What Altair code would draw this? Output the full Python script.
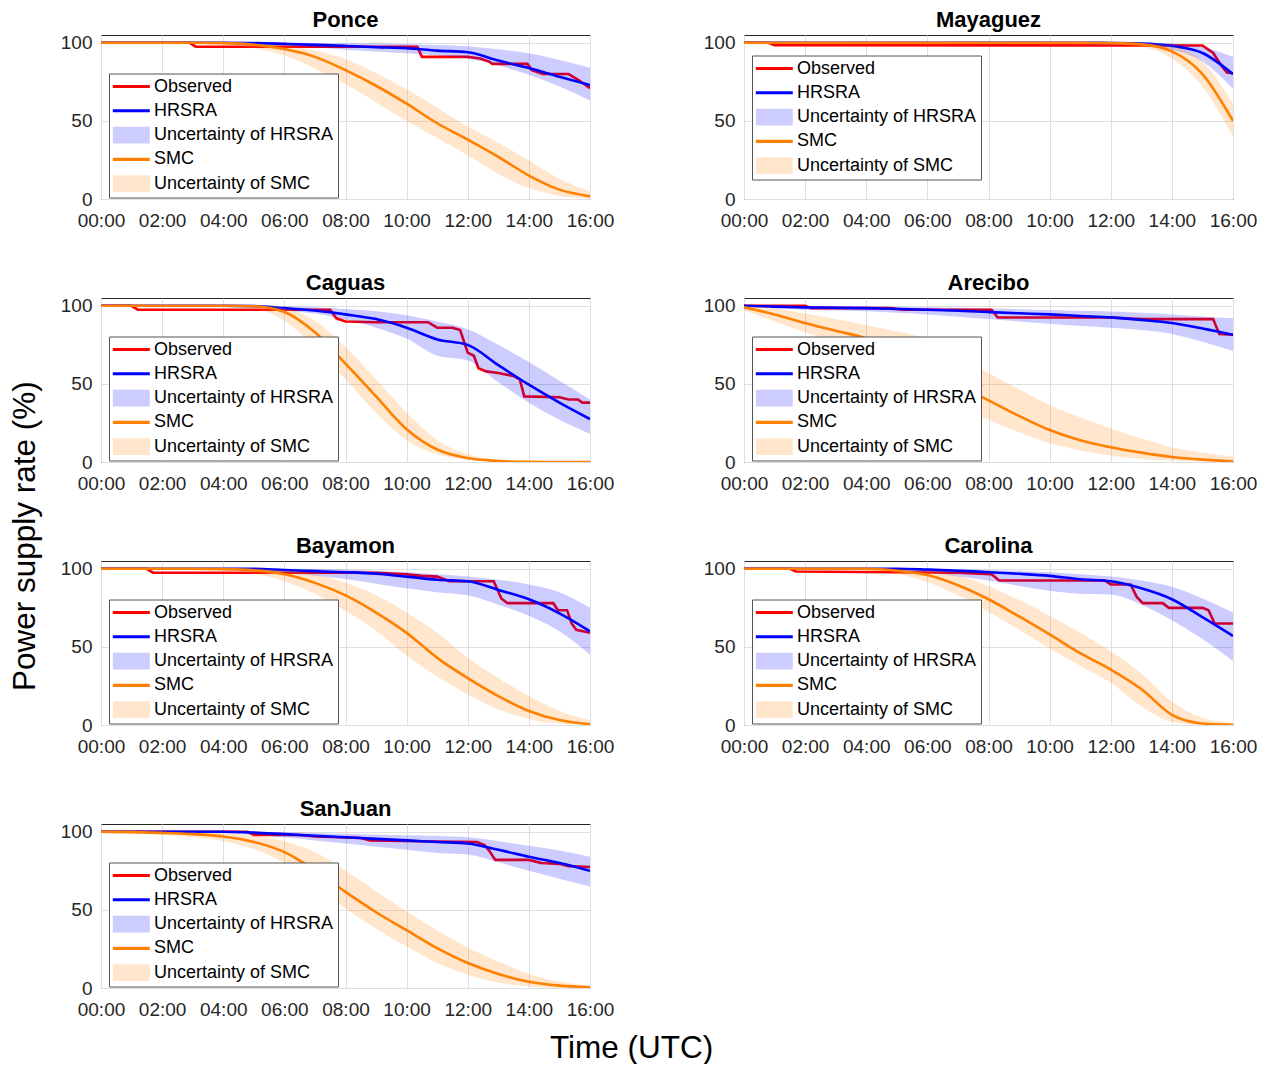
import altair as alt
import pandas as pd

HOURS = list(range(17))
X_TICKS = [0, 2, 4, 6, 8, 10, 12, 14, 16]
Y_TICKS = [0, 50, 100]
SERIES = ["Observed", "HRSRA", "Uncertainty of HRSRA", "SMC", "Uncertainty of SMC"]
COLORS = ["#ff0000", "#0000ff", "#ccccff", "#ff8000", "#ffe6cc"]
CITIES = ["Ponce", "Mayaguez", "Caguas", "Arecibo", "Bayamon", "Carolina", "SanJuan"]

# ---------------- Ponce ----------------
ponce_obs_t = [0, 2.9, 3.1, 10.35, 10.5, 12.0, 12.4, 12.7, 12.8, 13.95, 14.1, 14.45, 15.3, 15.6, 16]
ponce_obs_v = [100, 100, 97.5, 97.5, 91, 91, 90, 88, 86.5, 86.5, 82.5, 80, 80, 76.5, 71]
ponce_hrsra = [100, 100, 100, 100, 100, 99.8, 99.3, 98.7, 98, 97.2, 96.5, 95, 94, 88.6, 83.8, 78.3, 73]
ponce_hrsra_hi = [100, 100, 100, 100, 100, 100, 100, 99.9, 99.7, 99.5, 99.2, 98.6, 97.8, 95.8, 93.3, 89, 84]
ponce_hrsra_lo = [100, 100, 100, 100, 99.8, 99.3, 98.3, 97, 95.6, 94.5, 93.3, 91.8, 90, 85.5, 79.5, 72, 63]
ponce_smc = [100, 100, 100, 100, 99.8, 98.8, 96, 91, 82.5, 72.5, 61, 48.5, 38, 27, 15, 6, 1.7]
ponce_smc_hi = [100, 100, 100, 100, 100, 99.6, 98.2, 95, 89.5, 80.5, 70.3, 58.5, 46.4, 36, 24.6, 13, 5]
ponce_smc_lo = [100, 100, 100, 99.9, 99, 96.5, 91.8, 83.5, 73.5, 62, 50, 39, 28, 16, 7, 2, 0.3]

# ---------------- Mayaguez ----------------
mayaguez_obs_t = [0, 0.8, 1.0, 15.0, 15.35, 15.6, 15.8, 16]
mayaguez_obs_v = [100, 100, 98.5, 98.3, 93.5, 86, 81, 80.5]
mayaguez_hrsra = [100, 100, 100, 100, 100, 100, 100, 100, 100, 100, 100, 100, 99.9, 99.6, 98, 93.5, 80]
mayaguez_hrsra_hi = [100, 100, 100, 100, 100, 100, 100, 100, 100, 100, 100, 100, 100, 100, 99.6, 97.5, 91]
mayaguez_hrsra_lo = [100, 100, 100, 100, 100, 100, 100, 100, 100, 100, 100, 99.8, 99.5, 98.8, 95.5, 88, 70.5]
mayaguez_smc = [100, 100, 100, 100, 100, 100, 100, 100, 100, 100, 100, 100, 99.8, 99, 94.5, 80, 50]
mayaguez_smc_hi = [100, 100, 100, 100, 100, 100, 100, 100, 100, 100, 100, 100, 100, 99.8, 98, 88, 61]
mayaguez_smc_lo = [100, 100, 100, 100, 100, 100, 100, 100, 100, 100, 100, 100, 99.3, 97.5, 90, 72, 40]

# ---------------- Caguas ----------------
caguas_obs_t = [0, 1.0, 1.2, 7.5, 7.7, 8.0, 9.0, 10.7, 11.0, 11.5, 11.75, 12.0, 12.2, 12.35, 12.6, 13.0,
                13.5, 13.7, 13.85, 15.0, 15.3, 15.6, 15.75, 16]
caguas_obs_v = [100, 100, 97.5, 97.5, 92, 90, 89.5, 89.5, 86, 86, 84.5, 70, 68, 60, 58, 57,
                55, 53, 42, 41.5, 40, 40, 38, 38]
caguas_hrsra = [100, 100, 100, 100, 100, 99.8, 98.5, 97, 94.5, 91.5, 86, 78.5, 75, 62, 49.5, 38, 27.5]
caguas_hrsra_hi = [100, 100, 100, 100, 100, 100, 99.5, 99, 98, 96.5, 94, 90, 85, 75, 64, 52, 40]
caguas_hrsra_lo = [100, 100, 100, 100, 100, 99.5, 97, 95, 91, 86, 79, 68, 65, 51, 38, 27, 18]
caguas_smc = [100, 100, 100, 100, 100, 99.7, 96, 83, 63, 42, 21, 8, 2.5, 0.6, 0.1, 0, 0]
caguas_smc_hi = [100, 100, 100, 100, 100, 100, 98.5, 90.5, 73.5, 53, 31.5, 14, 5, 1.5, 0.3, 0, 0]
caguas_smc_lo = [100, 100, 100, 100, 99.9, 98.5, 90.5, 73.5, 53, 31.5, 14, 5, 1.5, 0.3, 0, 0, 0]

# ---------------- Arecibo ----------------
arecibo_obs_t = [0, 2.0, 2.2, 4.8, 5.2, 8.1, 8.3, 12.0, 13.0, 15.35, 15.55, 16]
arecibo_obs_v = [100, 100, 98.5, 98.5, 97.5, 97.5, 92.5, 92.5, 91.5, 91.5, 82, 81.5]
arecibo_hrsra = [100, 99.5, 99, 98.8, 98.5, 98, 97.5, 96.8, 96, 95.2, 94.5, 93.5, 92.6, 91, 89, 85.5, 81.5]
arecibo_hrsra_hi = [100, 100, 99.8, 99.7, 99.5, 99.3, 99, 98.7, 98.3, 97.8, 97.3, 96.8, 96.3, 95.5, 94.5, 93.2, 92]
arecibo_hrsra_lo = [99.5, 98.5, 97.5, 97, 96.5, 95.5, 94.5, 93, 91.5, 90, 88.5, 87, 86, 84.5, 82, 77, 71]
arecibo_smc = [99, 94.5, 89, 84, 79, 69, 59, 49, 39.5, 29.5, 20.5, 14, 9.5, 6, 3.2, 1.5, 0.5]
arecibo_smc_hi = [100, 98.5, 95, 91.5, 87.5, 83.5, 79, 69, 57, 46.5, 36.5, 28.5, 21.5, 15, 9.5, 6, 3.5]
arecibo_smc_lo = [97, 90, 83, 76, 68, 58, 47, 37, 27, 19, 12, 7.5, 4, 2, 1, 0.3, 0]

# ---------------- Bayamon ----------------
bayamon_obs_t = [0, 1.5, 1.7, 9.0, 10.0, 10.5, 11.0, 11.4, 12.85, 13.1, 13.3, 14.8, 14.95, 15.25, 15.4, 15.55, 16]
bayamon_obs_v = [100, 100, 97.5, 97.5, 96.5, 95.5, 95, 92, 92, 81, 78, 78, 73.5, 73.5, 65, 61, 59]
bayamon_hrsra = [100, 100, 100, 100, 100, 100, 99.2, 98.5, 97.8, 96.8, 95, 93, 92, 86.5, 80.5, 71.5, 60]
bayamon_hrsra_hi = [100, 100, 100, 100, 100, 100, 100, 99.8, 99.5, 98.8, 97.8, 96.5, 95, 93, 90, 85, 75]
bayamon_hrsra_lo = [100, 100, 100, 100, 99.8, 99, 97.5, 95.5, 93.5, 90.5, 87.5, 85, 83, 77, 70, 60, 45]
bayamon_smc = [100, 100, 100, 100, 99.8, 99, 96.5, 91, 83, 72, 59, 43, 30, 18.5, 9, 3.2, 0.5]
bayamon_smc_hi = [100, 100, 100, 100, 100, 100, 99, 96.5, 91, 83, 72, 59, 43, 30, 18.5, 9, 3.2]
bayamon_smc_lo = [100, 100, 100, 99.9, 99.2, 97, 92, 84, 73, 60.5, 44.5, 31, 19.5, 10, 3.8, 0.8, 0]

# ---------------- Carolina ----------------
carolina_obs_t = [0, 1.5, 1.7, 7.0, 8.1, 8.35, 11.8, 12.0, 12.65, 12.85, 13.05, 13.7, 13.9, 15.0, 15.2, 15.4, 16]
carolina_obs_v = [100, 100, 98.3, 97.5, 96.5, 92.5, 92.5, 90, 90, 82, 78, 78, 75, 75, 73.5, 65, 65]
carolina_hrsra = [100, 100, 100, 100, 100, 100, 99.5, 98.8, 97.8, 96.8, 95.5, 93.3, 92, 87.5, 80.5, 69, 57]
carolina_hrsra_hi = [100, 100, 100, 100, 100, 100, 100, 99.8, 99.3, 98.7, 97.8, 96.5, 95, 92.5, 88.5, 81, 72]
carolina_hrsra_lo = [100, 100, 100, 100, 99.8, 99, 97.5, 95, 92.5, 89, 86, 84, 83.5, 77, 67, 55, 41]
carolina_smc = [100, 100, 100, 100, 100, 98.8, 96, 89.5, 80.5, 69.5, 58, 46, 35.5, 23, 6.5, 1, 0.2]
carolina_smc_hi = [100, 100, 100, 100, 100, 99.7, 99, 95.5, 89, 80, 70, 59, 47, 33, 15, 4.5, 1.5]
carolina_smc_lo = [100, 100, 100, 100, 99.2, 97, 91.5, 83, 72.5, 61, 49, 38, 27, 12, 2, 0.2, 0]

# ---------------- SanJuan ----------------
sanjuan_obs_t = [0, 4.8, 5.0, 6.5, 7.0, 8.5, 8.8, 11.0, 12.3, 12.55, 12.7, 12.9, 14.0, 14.4, 15.0, 15.3, 16]
sanjuan_obs_v = [100, 100, 98, 98, 97, 96, 94.5, 93.8, 93.5, 91.5, 88, 82, 82, 80, 79.5, 78, 77.5]
sanjuan_hrsra = [100, 100, 100, 100, 100, 99.5, 98.5, 97.5, 96.5, 95.5, 94.5, 93.5, 92.5, 88.5, 84, 80, 75]
sanjuan_hrsra_hi = [100, 100, 100, 100, 100, 100, 99.7, 99.3, 98.8, 98.3, 97.8, 97.3, 96.5, 94, 91, 88, 84]
sanjuan_hrsra_lo = [100, 100, 99.8, 99.5, 99, 98, 96.5, 94.5, 92.5, 90.5, 88.5, 86.5, 85.5, 80.5, 75, 70, 65]
sanjuan_smc = [100, 99.8, 99.3, 98.5, 97, 93.5, 87, 75.5, 61.5, 48.5, 37, 25.5, 16, 9, 4, 1.5, 0.5]
sanjuan_smc_hi = [100, 100, 99.8, 99.5, 99, 97.5, 94, 87, 75, 62, 49, 37, 26, 17, 9, 4, 1.5]
sanjuan_smc_lo = [100, 99, 98, 96.5, 94, 89, 80, 66, 51, 38, 26.5, 16, 8.5, 3.5, 1, 0, 0]

LEGEND_Y = {"Ponce": 38.5, "Mayaguez": 20.5, "Caguas": 38.5, "Arecibo": 38.5,
            "Bayamon": 38.5, "Carolina": 38.5, "SanJuan": 38.5}

g = globals()
# custom legend glyphs: thin bar for lines, tall bar for uncertainty bands
LINE_GLYPH = "M-1.5,-0.25H4.54V0.25H-1.5Z"
BAND_GLYPH = "M-1.5,-1.36H4.54V1.36H-1.5Z"
SHAPES = [LINE_GLYPH, LINE_GLYPH, BAND_GLYPH, LINE_GLYPH, BAND_GLYPH]

x_axis = alt.Axis(values=X_TICKS, title=None, labelOverlap=False, labelFlush=False,
                  labelExpr="(datum.value < 10 ? '0' : '') + datum.value + ':00'")
y_axis = alt.Axis(values=Y_TICKS, title=None, labelOverlap=False)
x_scale = alt.Scale(domain=[0, 16], nice=False, zero=False)
y_scale = alt.Scale(domain=[0, 105], nice=False)


def panel(city):
    key = city.lower()
    smooth = pd.DataFrame({
        "t": HOURS,
        "hr": g[key + "_hrsra"], "hr_lo": g[key + "_hrsra_lo"], "hr_hi": g[key + "_hrsra_hi"],
        "smc": g[key + "_smc"], "smc_lo": g[key + "_smc_lo"], "smc_hi": g[key + "_smc_hi"],
    })
    obs = pd.DataFrame({"t": g[key + "_obs_t"], "v": g[key + "_obs_v"]})
    leg_df = pd.DataFrame({"series": SERIES, "t": [0] * 5, "v": [100] * 5})

    X = alt.X("t:Q", scale=x_scale, axis=x_axis)
    base = alt.Chart(smooth)

    obs_line = alt.Chart(obs).mark_line(color="#ff0000", strokeWidth=2.6, clip=True).encode(
        x=X, y=alt.Y("v:Q", scale=y_scale, axis=y_axis))
    hr_band = base.mark_area(color="#0000ff", opacity=0.2, interpolate="monotone", clip=True).encode(
        x=X, y=alt.Y("hr_lo:Q", scale=y_scale, axis=y_axis), y2="hr_hi:Q")
    hr_line = base.mark_line(color="#0000ff", strokeWidth=2.6, interpolate="monotone", clip=True).encode(
        x=X, y=alt.Y("hr:Q", scale=y_scale, axis=y_axis))
    smc_band = base.mark_area(color="#ff8000", opacity=0.2, interpolate="monotone", clip=True).encode(
        x=X, y=alt.Y("smc_lo:Q", scale=y_scale, axis=y_axis), y2="smc_hi:Q")
    smc_line = base.mark_line(color="#ff8000", strokeWidth=2.6, interpolate="monotone", clip=True).encode(
        x=X, y=alt.Y("smc:Q", scale=y_scale, axis=y_axis))

    leg = alt.Legend(orient="none", legendX=8, legendY=LEGEND_Y[city], title=None,
                     direction="vertical", symbolOpacity=1, symbolSize=150,
                     symbolStrokeWidth=0, labelOffset=23, rowPadding=6.3,
                     padding=4, labelLimit=0)
    legend_layer = alt.Chart(leg_df).mark_point(filled=True, opacity=0, size=150, clip=True).encode(
        x=X, y=alt.Y("v:Q", scale=y_scale, axis=y_axis),
        color=alt.Color("series:N", scale=alt.Scale(domain=SERIES, range=COLORS), legend=leg),
        shape=alt.Shape("series:N", scale=alt.Scale(domain=SERIES, range=SHAPES), legend=leg),
    )

    return alt.layer(obs_line, hr_band, hr_line, smc_band, smc_line, legend_layer).properties(
        width=489, height=164,
        title=alt.TitleParams(city, fontSize=22, fontWeight="bold", color="black",
                              anchor="middle", frame="group", baseline="alphabetic", offset=-15),
    )


grid = alt.concat(*[panel(c) for c in CITIES], columns=2,
                  spacing={"row": 99, "column": 154}, bounds="flush",
                  title=alt.TitleParams("Time (UTC)", orient="bottom", fontSize=31.5,
                                        fontWeight="normal", color="black", anchor="middle",
                                        offset=13, dx=-27)
                  ).resolve_scale(color="independent", shape="independent"
                  ).resolve_legend(color="independent", shape="independent")

chart = alt.vconcat(grid, title=alt.TitleParams("Power supply rate (%)", orient="left",
                                                 fontSize=31.5, fontWeight="normal", color="black",
                                                 anchor="middle", offset=18)
                    ).resolve_scale(color="independent", shape="independent"
                    ).resolve_legend(color="independent", shape="independent"
                    ).properties(padding={"left": 2, "top": 0, "right": 0, "bottom": 0}
                    ).configure(font="Liberation Sans"
                    ).configure_view(stroke="#262626", strokeWidth=1
                    ).configure_axis(grid=True, gridColor="#dfdfdf", gridWidth=1, domain=False,
                                     ticks=False, tickSize=0, labelFontSize=19,
                                     labelColor="#262626", labelFont="Liberation Sans"
                    ).configure_axisX(labelPadding=12
                    ).configure_axisY(labelPadding=9
                    ).configure_legend(fillColor="white", strokeColor="#555555", cornerRadius=0,
                                       labelFontSize=18, labelColor="black",
                                       labelFont="Liberation Sans")

chart.save("out.html", embed_options={"renderer": "svg", "actions": False})
